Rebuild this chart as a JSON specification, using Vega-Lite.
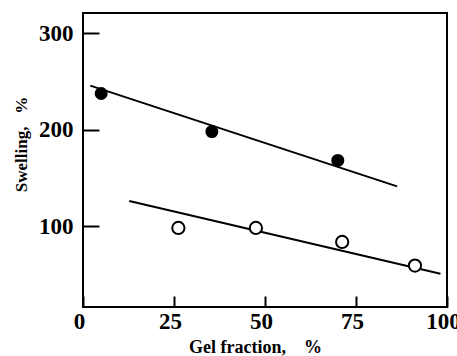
{
  "$schema": "https://vega.github.io/schema/vega-lite/v6.json",
  "width": 364,
  "height": 294,
  "autosize": {"type": "none"},
  "padding": {"left": 83, "top": 13, "right": 10, "bottom": 49},
  "background": "white",
  "config": {
    "view": {"stroke": "black", "strokeWidth": 2},
    "axis": {
      "labelFont": "Liberation Serif",
      "labelFontWeight": "bold",
      "labelFontSize": 23,
      "labelColor": "black",
      "titleFont": "Liberation Serif",
      "titleFontWeight": "bold",
      "titleColor": "black",
      "grid": false,
      "domain": false,
      "ticks": true,
      "tickColor": "black",
      "tickOpacity": 1,
      "tickWidth": 2,
      "zindex": 2
    }
  },
  "datasets": {
    "pts": [
      {"gel": 5, "swelling": 237.5, "series": "filled"},
      {"gel": 35.4, "swelling": 198, "series": "filled"},
      {"gel": 70, "swelling": 168, "series": "filled"},
      {"gel": 26.2, "swelling": 98, "series": "open"},
      {"gel": 47.5, "swelling": 98, "series": "open"},
      {"gel": 71.2, "swelling": 83.5, "series": "open"},
      {"gel": 91.2, "swelling": 59, "series": "open"}
    ],
    "fits": [
      {"gel": 2, "swelling": 245.7, "series": "upper"},
      {"gel": 86.3, "swelling": 141.1, "series": "upper"},
      {"gel": 12.7, "swelling": 126, "series": "lower"},
      {"gel": 98.2, "swelling": 50.5, "series": "lower"}
    ]
  },
  "encoding": {
    "x": {
      "field": "gel",
      "type": "quantitative",
      "scale": {"domain": [0, 100], "nice": false, "zero": false},
      "axis": {
        "values": [0, 25, 50, 75, 100],
        "offset": -11,
        "tickSize": 11,
        "labelOffset": -4,
        "labelPadding": 3,
        "labelFlush": false,
        "title": "Gel fraction,\u00a0\u00a0\u00a0\u00a0%",
        "titleFontSize": 18,
        "titleBaseline": "middle",
        "titleY": 51,
        "titleX": 172
      }
    },
    "y": {
      "field": "swelling",
      "type": "quantitative",
      "scale": {"domain": [16, 321], "nice": false, "zero": false},
      "axis": {
        "values": [100, 200, 300],
        "offset": -16,
        "tickSize": 16,
        "labelPadding": 10,
        "title": "Swelling,\u00a0\u00a0\u00a0%",
        "titleFontSize": 17,
        "titleBaseline": "middle",
        "titleAlign": "center",
        "titleX": -78,
        "titleY": 131
      }
    }
  },
  "layer": [
    {
      "data": {"name": "fits"},
      "mark": {"type": "line", "color": "black", "strokeWidth": 2},
      "encoding": {"detail": {"field": "series"}}
    },
    {
      "data": {"name": "pts"},
      "transform": [{"filter": "datum.series === 'open'"}],
      "mark": {"type": "point", "shape": "circle", "filled": true, "fill": "white", "stroke": "black", "strokeWidth": 2, "size": 150, "opacity": 1}
    },
    {
      "data": {"name": "pts"},
      "transform": [{"filter": "datum.series === 'filled'"}],
      "mark": {"type": "point", "shape": "circle", "filled": true, "color": "black", "size": 170, "opacity": 1}
    }
  ]
}
